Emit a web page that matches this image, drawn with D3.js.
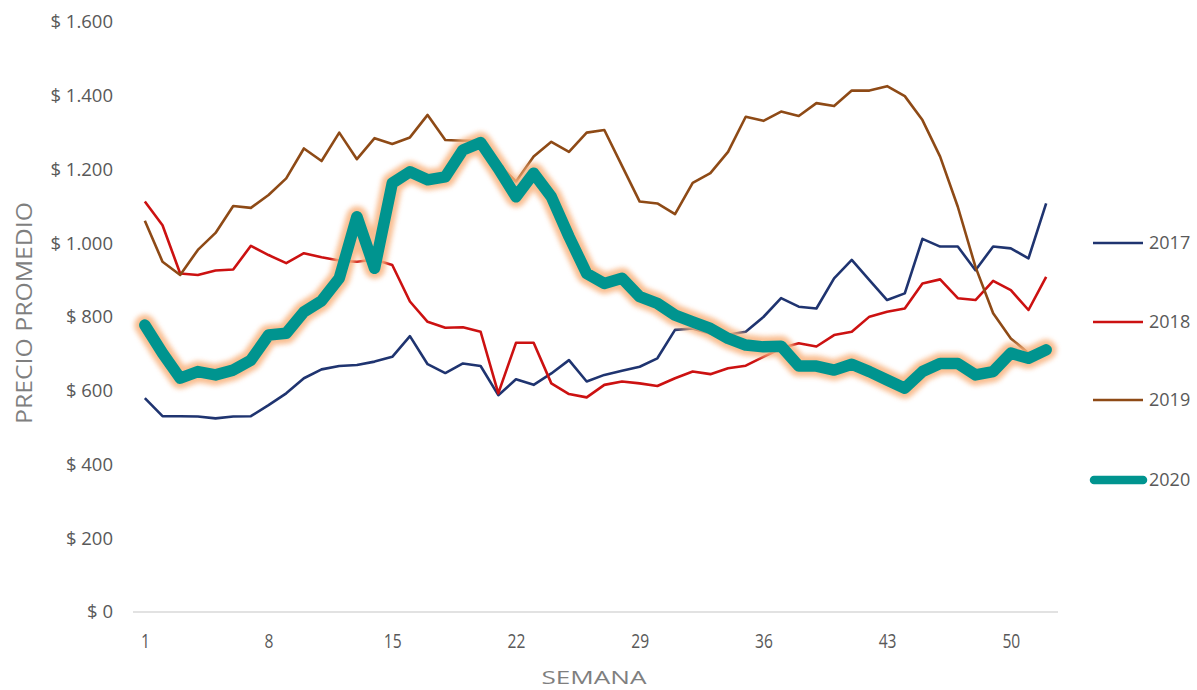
<!DOCTYPE html>
<html><head><meta charset="utf-8">
<script src="https://cdn.jsdelivr.net/npm/d3@7"></script>
<style>
body{margin:0;background:#fff;}
svg{display:block;}
</style>
</head><body>
<svg id="chart" width="1197" height="690"></svg>
<script>
const weeks = d3.range(1, 53);
const xTickLabels = [1, 8, 15, 22, 29, 36, 43, 50];
const yTickValues = [0, 200, 400, 600, 800, 1000, 1200, 1400, 1600];
const seriesNames = ["2017", "2018", "2019", "2020"];

const v2017 = [580,531,531,530,525,530,531,561,593,634,658,667,670,679,692,748,672,648,674,667,588,631,616,647,683,625,643,654,665,688,765,769,755,752,760,800,851,828,823,905,955,900,846,864,1012,991,991,927,991,986,959,1108];
const v2018 = [1113,1049,918,914,926,929,993,968,946,973,962,953,950,956,941,842,787,771,772,760,593,730,730,620,591,582,616,625,620,613,634,652,645,661,668,692,715,729,720,751,760,801,814,823,891,902,851,846,898,873,819,909];
const v2019 = [1061,950,914,982,1028,1101,1096,1131,1176,1257,1223,1300,1228,1285,1269,1287,1348,1280,1278,1278,1215,1167,1235,1275,1248,1300,1307,1210,1113,1108,1079,1164,1190,1248,1343,1332,1357,1345,1380,1372,1414,1414,1426,1399,1334,1235,1099,936,810,742,702,705];
const v2020 = [778,702,634,652,643,656,683,751,756,814,844,905,1072,932,1163,1194,1172,1180,1253,1273,1203,1126,1190,1126,1018,918,891,905,855,837,805,787,769,742,724,719,721,667,667,656,672,652,629,607,652,674,674,643,652,702,688,711];

const colors = {"2017": "#1f3470", "2018": "#cc1111", "2019": "#8e4a16", "2020": "#00948f"};
const seriesValues = {"2017": v2017, "2018": v2018, "2019": v2019, "2020": v2020};

const svg = d3.select("#chart");
const x = d3.scalePoint().domain(weeks).range([133, 1058]).padding(0.67);
const y = d3.scaleLinear().domain([0, 1600]).range([612, 22]);

// glow filter
const defs = svg.append("defs");
const f = defs.append("filter").attr("id", "glow").attr("x", "-10%").attr("y", "-10%").attr("width", "120%").attr("height", "120%");
f.append("feGaussianBlur").attr("stdDeviation", 2.6);

// baseline
svg.append("line").attr("x1", 133).attr("x2", 1058).attr("y1", y(0)).attr("y2", y(0))
  .attr("stroke", "#d9d9d9").attr("stroke-width", 1.3);

// y axis labels
const yAxis = d3.axisLeft(y).tickValues(yTickValues).tickSize(0).tickPadding(0)
  .tickFormat(d => "$ " + d3.format(",")(d).replace(/,/g, "."));
const gy = svg.append("g").attr("transform", "translate(113,0)").call(yAxis);
gy.select(".domain").remove();
gy.selectAll("text").attr("font-family", "'Open Sans', sans-serif").attr("font-size", 18.5).attr("fill", "#595959");

// x axis labels
const xAxis = d3.axisBottom(x).tickValues(xTickLabels).tickSize(0).tickPadding(0);
const gx = svg.append("g").attr("transform", "translate(0,648)").call(xAxis);
gx.select(".domain").remove();
gx.selectAll("text").attr("font-family", "'Open Sans', sans-serif").attr("font-size", 20).attr("fill", "#595959")
  .attr("dy", 0).attr("y", 0)
  .attr("transform", "scale(0.78,1)")
  .attr("x", function() { return 0; })
  .each(function() {
    const t = d3.select(this.parentNode).attr("transform");
    const m = /translate\(([-\d.]+)/.exec(t);
    const cx = m ? +m[1] : 0;
    d3.select(this.parentNode).attr("transform", `translate(${cx},0)`);
  });

// axis titles
svg.append("text").attr("transform", "translate(32,313) rotate(-90)").attr("text-anchor", "middle")
  .attr("font-family", "'Open Sans', sans-serif").attr("font-size", 21).attr("fill", "#7f7f7f")
  .attr("textLength", 222).attr("lengthAdjust", "spacingAndGlyphs").text("PRECIO PROMEDIO");
svg.append("text").attr("x", 594).attr("y", 684).attr("text-anchor", "middle")
  .attr("font-family", "'Open Sans', sans-serif").attr("font-size", 19).attr("fill", "#7f7f7f")
  .attr("textLength", 105).attr("lengthAdjust", "spacingAndGlyphs").text("SEMANA");

const line = d3.line().x((d, i) => x(weeks[i])).y(d => y(d));

["2017", "2018", "2019"].forEach(name => {
  svg.append("path").datum(seriesValues[name]).attr("d", line).attr("fill", "none")
    .attr("stroke", colors[name]).attr("stroke-width", 2.6).attr("stroke-linejoin", "round");
});

// 2020 with glow
svg.append("path").datum(v2020).attr("d", line).attr("fill", "none")
  .attr("stroke", "#f8b27e").attr("stroke-width", 21).attr("stroke-linejoin", "round").attr("stroke-linecap", "round")
  .attr("opacity", 0.85).attr("filter", "url(#glow)");
svg.append("path").datum(v2020).attr("d", line).attr("fill", "none")
  .attr("stroke", colors["2020"]).attr("stroke-width", 11.5).attr("stroke-linejoin", "round").attr("stroke-linecap", "round");

// legend
const legendY = [243, 322, 400, 480];
seriesNames.forEach((name, i) => {
  const g = svg.append("g").attr("transform", `translate(0,${legendY[i]})`);
  g.append("line").attr("x1", name === "2020" ? 1094 : 1093).attr("x2", 1143).attr("y1", 0).attr("y2", 0)
    .attr("stroke", colors[name]).attr("stroke-width", name === "2020" ? 8.5 : 2.6)
    .attr("stroke-linecap", name === "2020" ? "round" : "butt");
  g.append("text").attr("x", 1149).attr("y", 0).attr("dy", "0.36em")
    .attr("font-family", "'Open Sans', sans-serif").attr("font-size", 18).attr("fill", "#595959").text(name);
});
</script>
</body></html>
